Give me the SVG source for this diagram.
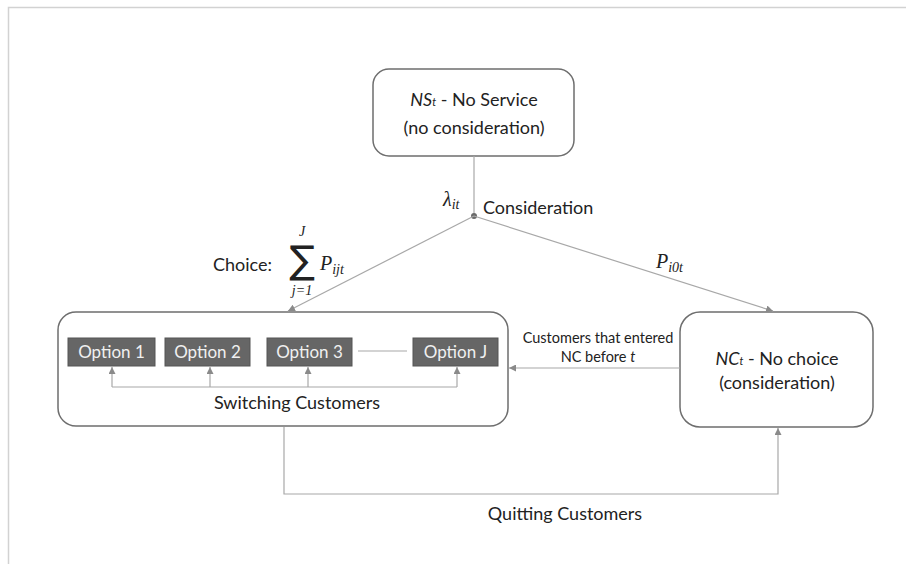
<svg xmlns="http://www.w3.org/2000/svg" width="906" height="564" viewBox="0 0 906 564">
<defs>
<marker id="ah" viewBox="0 0 10 10" refX="10" refY="5" markerWidth="7" markerHeight="7" markerUnits="userSpaceOnUse" orient="auto">
<path d="M0,0 L10,5 L0,10 z" fill="#8a8a8a"/>
</marker>
<style>
.box{fill:#fff;stroke:#6e6e6e;stroke-width:1.5}
.opt{fill:#666;stroke:#555;stroke-width:1}
.t{font-family:Lato,"Open Sans","Liberation Sans",sans-serif;fill:#222;font-size:18px}
.ot{font-family:Lato,"Open Sans","Liberation Sans",sans-serif;fill:#f0f0f0;font-size:17px}
.s{font-family:Lato,"Open Sans","Liberation Sans",sans-serif;fill:#222;font-size:14.5px}
.m{font-family:"Liberation Serif","DejaVu Serif",serif;font-style:italic;fill:#222}
.c{fill:none;stroke:#a8a8a8;stroke-width:1.2}
</style>
</defs>
<rect width="906" height="564" fill="#fff"/>
<path d="M8.5,564 V7.5 H906" fill="none" stroke="#d2d2d2" stroke-width="1.5"/>

<g id="ns">
<rect class="box" x="373" y="69" width="201" height="87" rx="16"/>
<text class="t" x="474" y="106" text-anchor="middle"><tspan font-style="italic">NS</tspan><tspan font-style="italic" font-size="11">t</tspan> - No Service</text>
<text class="t" x="474" y="134" text-anchor="middle">(no consideration)</text>
</g>

<g id="switching">
<rect class="box" x="58" y="312" width="450" height="114" rx="18"/>
<g id="opt1"><rect class="opt" x="68" y="338" width="87" height="28"/><text class="ot" x="111.5" y="358" text-anchor="middle">Option 1</text></g>
<g id="opt2"><rect class="opt" x="165" y="338" width="85" height="28"/><text class="ot" x="207.5" y="358" text-anchor="middle">Option 2</text></g>
<g id="opt3"><rect class="opt" x="267" y="338" width="85" height="28"/><text class="ot" x="309.5" y="358" text-anchor="middle">Option 3</text></g>
<g id="optJ"><rect class="opt" x="413" y="338" width="85" height="28"/><text class="ot" x="455.5" y="358" text-anchor="middle">Option J</text></g>
<text class="t" x="297" y="409" text-anchor="middle">Switching Customers</text>
</g>

<g id="nc">
<rect class="box" x="680" y="312" width="193" height="115" rx="20"/>
<text class="t" x="777" y="365" text-anchor="middle"><tspan font-style="italic">NC</tspan><tspan font-style="italic" font-size="11">t</tspan> - No choice</text>
<text class="t" x="777" y="389" text-anchor="middle">(consideration)</text>
</g>

<g id="connectors">
<line class="c" x1="474" y1="156" x2="474" y2="216"/>
<circle cx="474" cy="216" r="3" fill="#6a6a6a"/>
<line class="c" x1="474" y1="216" x2="288" y2="311" marker-end="url(#ah)"/>
<line class="c" x1="474" y1="216" x2="773" y2="311" marker-end="url(#ah)"/>
<line class="c" x1="680" y1="368" x2="509" y2="368" marker-end="url(#ah)"/>
<polyline class="c" points="284,427 284,494 778,494 778,428" marker-end="url(#ah)"/>
<line class="c" x1="358" y1="351" x2="407" y2="351"/>
<polyline class="c" points="112,387 457,387"/>
<line class="c" x1="112" y1="387" x2="112" y2="367" marker-end="url(#ah)"/>
<line class="c" x1="210" y1="387" x2="210" y2="367" marker-end="url(#ah)"/>
<line class="c" x1="308" y1="387" x2="308" y2="367" marker-end="url(#ah)"/>
<line class="c" x1="457" y1="387" x2="457" y2="367" marker-end="url(#ah)"/>
</g>

<g id="labels">
<text class="m" x="443" y="206" font-size="20">λ<tspan font-size="14" dy="3">it</tspan></text>
<text class="t" x="483" y="214">Consideration</text>
<text class="t" x="213" y="271">Choice:</text>
<text x="302" y="273" font-family="'DejaVu Sans',sans-serif" font-size="38" fill="#222" text-anchor="middle">∑</text>
<text class="m" x="302" y="236" font-size="14" text-anchor="middle">J</text>
<text class="m" x="302" y="295" font-size="14" text-anchor="middle">j=1</text>
<text class="m" x="320" y="270" font-size="20">P<tspan font-size="14" dy="4">ijt</tspan></text>
<text class="m" x="656" y="268" font-size="20">P<tspan font-size="14" dy="4">i0t</tspan></text>
<text class="s" x="598" y="343" text-anchor="middle">Customers that entered</text>
<text class="s" x="598" y="362" text-anchor="middle">NC before <tspan font-style="italic">t</tspan></text>
<text class="t" x="565" y="520" text-anchor="middle">Quitting Customers</text>
</g>
</svg>
